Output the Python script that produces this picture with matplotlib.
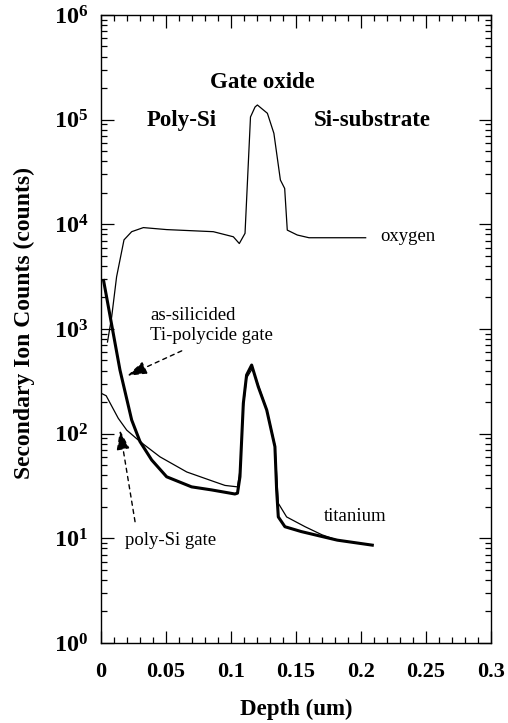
import math

import matplotlib

matplotlib.use("Agg")
import matplotlib.pyplot as plt
from matplotlib.ticker import FixedLocator, FuncFormatter, LogLocator, MultipleLocator, NullFormatter

# depth in um, counts
oxygen_depth = [0.005, 0.0082, 0.012, 0.0177, 0.0236, 0.0326, 0.0505, 0.0864, 0.1018, 0.1064,
                0.1108, 0.115, 0.1185, 0.1203, 0.128, 0.133, 0.138, 0.1413, 0.1433, 0.151, 0.16, 0.2036]
oxygen_counts = [750, 1300, 3150, 7100, 8500, 9300, 8900, 8500, 7600, 6550,
                 8200, 106000, 132000, 138000, 115000, 74000, 26500, 22000, 8800, 7900, 7440, 7440]

silicide_depth = [0.002, 0.0146, 0.0236, 0.030, 0.039, 0.0505, 0.0697, 0.085, 0.103, 0.105,
                  0.1069, 0.1095, 0.112, 0.1159, 0.121, 0.1275, 0.1338, 0.1351, 0.1364, 0.1415,
                  0.154, 0.17, 0.1818, 0.2087]
silicide_counts = [2900, 405, 135, 84, 56, 38.7, 31, 29, 26.5, 27,
                   38.7, 195, 363, 452, 280, 168, 75, 29, 16, 12.9,
                   11.6, 10.4, 9.6, 8.6]

polysi_depth = [0.001, 0.004, 0.0133, 0.0198, 0.030, 0.0454, 0.066, 0.0864, 0.0954, 0.105,
                0.107, 0.1095, 0.112, 0.1165, 0.121, 0.1275, 0.1338, 0.1364, 0.1428, 0.157,
                0.17, 0.1818, 0.2087]
polysi_counts = [240, 230, 140, 108, 84, 60, 43, 35, 32, 31,
                 45, 180, 340, 420, 290, 170, 78, 21.6, 16, 12.9,
                 10.8, 9.6, 8.6]

x_major = [0, 0.05, 0.1, 0.15, 0.2, 0.25, 0.3]
y_decades = [1, 10, 100, 1000, 10000, 100000, 1000000]

# region names above the profile
region_labels = [
    ("Gate oxide", 0.124, 2.28e5),
    ("Poly-Si", 0.0623, 9.9e4),
    ("Si-substrate", 0.2085, 9.9e4),
]
curve_labels = [
    ("oxygen", 0.2146, 7.6e3),
    ("titanium", 0.1715, 16),
    ("poly-Si gate", 0.0185, 9.6),
    ("as-silicided", 0.0377, 1350),
    ("Ti-polycide gate", 0.0377, 870),
]
arrow_silicide = ((0.0202, 357), (0.0621, 618))
arrow_polysi = ((0.0146, 108), (0.0262, 14.4))

plt.rcParams["font.family"] = ["Liberation Serif", "DejaVu Serif"]
plt.rcParams["mathtext.fontset"] = "custom"
plt.rcParams["mathtext.rm"] = "Liberation Serif"
plt.rcParams["mathtext.bf"] = "Liberation Serif:bold"

fig = plt.figure(figsize=(5.08, 7.23), dpi=100)
ax = fig.add_axes([0.1988, 0.1107, 0.7677, 0.8686])

ax.plot(oxygen_depth, oxygen_counts, color="black", lw=0.9)
ax.plot(polysi_depth, polysi_counts, color="black", lw=0.9)
ax.plot(silicide_depth, silicide_counts, color="black", lw=2.2)

ax.set_yscale("log")
ax.set_xlim(0, 0.3)
ax.set_ylim(1, 1e6)

ax.xaxis.set_major_locator(FixedLocator(x_major))
ax.xaxis.set_minor_locator(MultipleLocator(0.01))
ax.xaxis.set_major_formatter(FuncFormatter(lambda v, p: "%g" % round(v, 3)))
ax.yaxis.set_major_locator(FixedLocator(y_decades))
ax.yaxis.set_minor_locator(LogLocator(base=10, subs=range(2, 10), numticks=20))
ax.yaxis.set_minor_formatter(NullFormatter())
ax.yaxis.set_major_formatter(FuncFormatter(lambda v, p: r"$\mathbf{10^{%d}}$" % round(math.log10(v))))

ax.tick_params(which="both", direction="in", top=True, right=True, width=0.9, color="black")
ax.tick_params(which="major", length=9)
ax.tick_params(which="minor", length=4.5)
ax.tick_params(axis="x", which="major", pad=14, labelsize=16)
ax.tick_params(axis="y", which="major", pad=9, labelsize=17.5)
for lab in ax.get_xticklabels():
    lab.set_fontweight("bold")
for sp in ax.spines.values():
    sp.set_linewidth(1.0)

ax.set_xlabel("Depth (um)", fontsize=16.5, fontweight="bold", labelpad=12)
ax.set_ylabel("Secondary Ion Counts (counts)", fontsize=17, fontweight="bold")
ax.yaxis.set_label_coords(-0.168, 0.51)

for text, x, y in region_labels:
    ax.text(x, y, text, fontsize=16.5, fontweight="bold", ha="center", va="center")
for text, x, y in curve_labels:
    ax.text(x, y, text, fontsize=13.5, ha="left", va="center")

for tip, tail in (arrow_silicide, arrow_polysi):
    ax.annotate("", xy=tip, xytext=tail,
                arrowprops=dict(arrowstyle="-|>,head_length=1.2,head_width=0.4",
                                linestyle=(0, (3, 3)), lw=1.0, color="black",
                                shrinkA=0, shrinkB=0))

fig.savefig("out.png", dpi=100)
